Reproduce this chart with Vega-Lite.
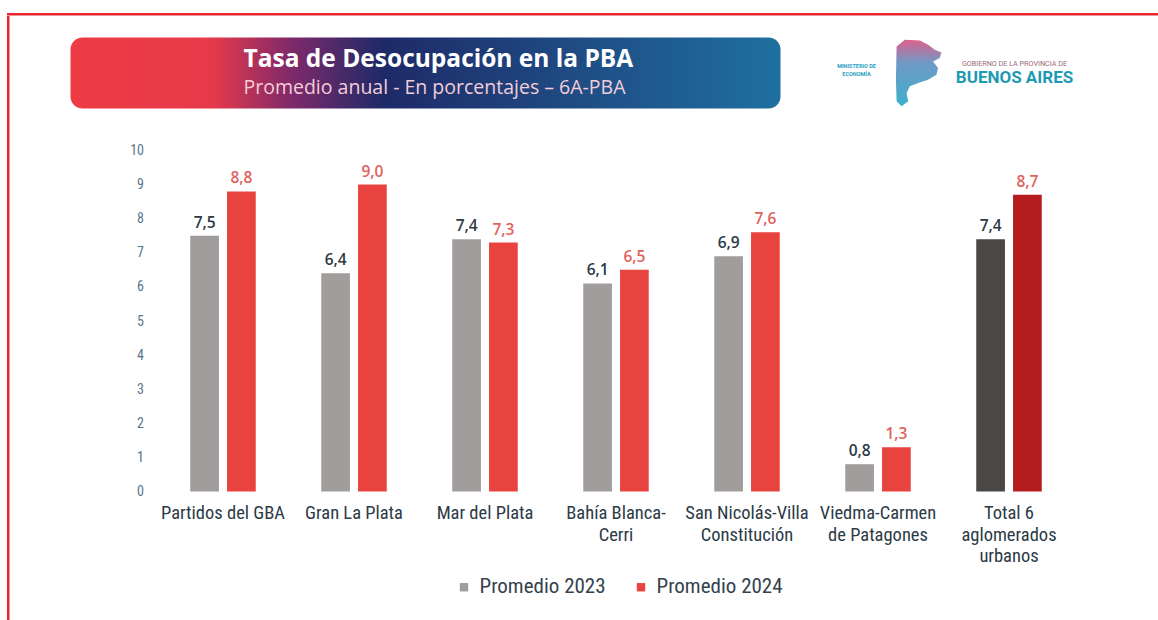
{
  "$schema": "https://vega.github.io/schema/vega-lite/v6.json",
  "background": "white",
  "padding": {"left": 7, "top": 13, "right": 0, "bottom": 0},
  "config": {
    "locale": {"number": {"decimal": ",", "thousands": ".", "grouping": [3], "currency": ["$", ""]}},
    "view": {"stroke": null},
    "font": "Liberation Sans Narrow, Roboto Condensed, Roboto, sans-serif"
  },
  "spacing": 0,
  "vconcat": [
    {
      "width": 1151,
      "height": 2.5,
      "view": {"fill": "#e8262b", "stroke": null},
      "data": {"values": []},
      "mark": {"type": "point", "opacity": 0},
      "encoding": {}
    },
    {
      "spacing": 60.5,
      "hconcat": [
        {
          "width": 2.5,
          "height": 610,
          "view": {"fill": "#e8262b", "stroke": null},
          "data": {"values": []},
          "mark": {"type": "point", "opacity": 0},
          "encoding": {}
        },
        {
          "spacing": 20.5,
          "vconcat": [
            {
              "width": 10,
              "height": 1,
              "data": {"values": []},
              "mark": {"type": "point", "opacity": 0},
              "encoding": {}
            },
            {
              "spacing": 35,
              "vconcat": [
                {
                  "spacing": 50,
                  "hconcat": [
                    {
                      "width": 710,
                      "height": 71,
                      "view": {
                        "stroke": null,
                        "cornerRadius": 12,
                        "fill": {
                          "gradient": "linear", "x1": 0, "y1": 0, "x2": 1, "y2": 0,
                          "stops": [
                            {"offset": 0, "color": "#ee3b45"},
                            {"offset": 0.2, "color": "#e63a4a"},
                            {"offset": 0.31, "color": "#80296a"},
                            {"offset": 0.44, "color": "#1e2a68"},
                            {"offset": 1, "color": "#1f70a0"}
                          ]
                        }
                      },
                      "layer": [
                        {
                          "data": {"values": [{"t": "Tasa de Desocupación en la PBA"}]},
                          "mark": {"type": "text", "align": "left", "dx": -182, "dy": -13, "fontSize": 24.5, "fontWeight": "bold", "color": "white", "font": "Open Sans"},
                          "encoding": {"text": {"field": "t"}}
                        },
                        {
                          "data": {"values": [{"t": "Promedio anual - En  porcentajes – 6A-PBA"}]},
                          "mark": {"type": "text", "align": "left", "dx": -182, "dy": 15, "fontSize": 19.5, "color": "#f3cdd8", "font": "Open Sans"},
                          "encoding": {"text": {"field": "t"}}
                        }
                      ]
                    },
                    {
                      "spacing": 6,
                      "hconcat": [
                        {
                          "width": 52,
                          "height": 71,
                          "layer": [
                            {
                              "data": {"values": [{"t": "MINISTERIO DE"}]},
                              "mark": {"type": "text", "dy": -7, "fontSize": 5.5, "fontWeight": "bold", "color": "#2aa0c4", "font": "Roboto"},
                              "encoding": {"text": {"field": "t"}}
                            },
                            {
                              "data": {"values": [{"t": "ECONOMÍA"}]},
                              "mark": {"type": "text", "dy": 1, "fontSize": 5.5, "fontWeight": "bold", "color": "#2aa0c4", "font": "Roboto"},
                              "encoding": {"text": {"field": "t"}}
                            }
                          ]
                        },
                        {
                          "width": 56,
                          "height": 71,
                          "data": {"values": [{"t": "mapa"}]},
                          "mark": {
                            "type": "point",
                            "filled": true,
                            "size": 4400,
                            "strokeWidth": 0,
                            "opacity": 0.9,
                            "shape": "M -0.35,-1 L 0.1,-0.98 L 0.35,-0.85 L 0.55,-0.7 L 0.75,-0.62 L 0.7,-0.45 L 0.5,-0.35 L 0.65,-0.15 L 0.6,0.05 L 0.35,0.2 L 0.05,0.3 L -0.2,0.4 L -0.3,0.6 L -0.25,0.85 L -0.45,1 L -0.6,0.85 L -0.62,0.2 L -0.6,-0.8 Z",
                            "fill": {
                              "gradient": "linear", "x1": 0, "y1": 0, "x2": 0, "y2": 1,
                              "stops": [
                                {"offset": 0, "color": "#d8507f"},
                                {"offset": 0.35, "color": "#5f8fc0"},
                                {"offset": 1, "color": "#26a6c4"}
                              ]
                            }
                          },
                          "encoding": {"tooltip": {"field": "t"}}
                        },
                        {
                          "width": 128,
                          "height": 71,
                          "layer": [
                            {
                              "data": {"values": [{"t": "GOBIERNO DE LA PROVINCIA DE"}]},
                              "mark": {"type": "text", "dy": -9, "fontSize": 7.2, "color": "#9a6a78", "font": "Roboto"},
                              "encoding": {"text": {"field": "t"}}
                            },
                            {
                              "data": {"values": [{"t": "BUENOS AIRES"}]},
                              "mark": {"type": "text", "dy": 5, "fontSize": 17, "fontWeight": "bold", "color": "#1d9ab3", "font": "Roboto"},
                              "encoding": {"text": {"field": "t"}}
                            }
                          ]
                        }
                      ]
                    }
                  ]
                },
                {
                  "spacing": 0,
                  "hconcat": [
                    {
                      "width": 59,
                      "height": 341,
                      "data": {"values": []},
                      "mark": {"type": "point", "opacity": 0},
                      "encoding": {}
                    },
                    {
                      "width": 917,
                      "height": 341,
                      "data": {
                        "values": [
                          {"region": "Partidos del GBA", "anio": "2023", "grupo": "Promedio 2023", "valor": 7.5},
                          {"region": "Partidos del GBA", "anio": "2024", "grupo": "Promedio 2024", "valor": 8.8},
                          {"region": "Gran La Plata", "anio": "2023", "grupo": "Promedio 2023", "valor": 6.4},
                          {"region": "Gran La Plata", "anio": "2024", "grupo": "Promedio 2024", "valor": 9.0},
                          {"region": "Mar del Plata", "anio": "2023", "grupo": "Promedio 2023", "valor": 7.4},
                          {"region": "Mar del Plata", "anio": "2024", "grupo": "Promedio 2024", "valor": 7.3},
                          {"region": "Bahía Blanca-Cerri", "anio": "2023", "grupo": "Promedio 2023", "valor": 6.1},
                          {"region": "Bahía Blanca-Cerri", "anio": "2024", "grupo": "Promedio 2024", "valor": 6.5},
                          {"region": "San Nicolás-Villa Constitución", "anio": "2023", "grupo": "Promedio 2023", "valor": 6.9},
                          {"region": "San Nicolás-Villa Constitución", "anio": "2024", "grupo": "Promedio 2024", "valor": 7.6},
                          {"region": "Viedma-Carmen de Patagones", "anio": "2023", "grupo": "Promedio 2023", "valor": 0.8},
                          {"region": "Viedma-Carmen de Patagones", "anio": "2024", "grupo": "Promedio 2024", "valor": 1.3},
                          {"region": "Total 6 aglomerados urbanos", "anio": "2023", "grupo": "Total 2023", "valor": 7.4},
                          {"region": "Total 6 aglomerados urbanos", "anio": "2024", "grupo": "Total 2024", "valor": 8.7}
                        ]
                      },
                      "encoding": {
                        "x": {
                          "field": "region", "type": "nominal", "sort": null,
                          "scale": {"paddingInner": 0.5, "paddingOuter": 0.25},
                          "axis": {
                            "title": null, "domain": false, "ticks": false, "labelAngle": 0,
                            "labelPadding": 12, "labelFontSize": 18.5, "labelColor": "#2c3a46",
                            "labelLineHeight": 21.5, "labelBaseline": "top", "labelLimit": 200,
                            "labelExpr": "datum.value == 'Bahía Blanca-Cerri' ? ['Bahía Blanca-', 'Cerri'] : datum.value == 'San Nicolás-Villa Constitución' ? ['San Nicolás-Villa', 'Constitución'] : datum.value == 'Viedma-Carmen de Patagones' ? ['Viedma-Carmen', 'de Patagones'] : datum.value == 'Total 6 aglomerados urbanos' ? ['Total  6', 'aglomerados', 'urbanos'] : datum.value"
                          }
                        },
                        "xOffset": {"field": "anio", "type": "nominal", "scale": {"paddingInner": 0.22}},
                        "y": {
                          "field": "valor", "type": "quantitative",
                          "scale": {"domain": [0, 10], "nice": false},
                          "axis": {
                            "title": null, "grid": false, "domain": false, "ticks": false,
                            "values": [0, 1, 2, 3, 4, 5, 6, 7, 8, 9, 10],
                            "labelFontSize": 14, "labelColor": "#5a7588", "labelPadding": 14
                          }
                        }
                      },
                      "layer": [
                        {
                          "mark": {"type": "bar"},
                          "encoding": {
                            "color": {
                              "field": "grupo", "type": "nominal",
                              "scale": {
                                "domain": ["Promedio 2023", "Promedio 2024", "Total 2023", "Total 2024"],
                                "range": ["#a09d9c", "#e9433f", "#4a4746", "#b51c1e"]
                              },
                              "legend": {
                                "title": null, "orient": "none", "legendX": 296, "legendY": 426,
                                "direction": "horizontal",
                                "values": ["Promedio 2023", "Promedio 2024"],
                                "symbolType": "square", "symbolSize": 70, "symbolStrokeWidth": 0,
                                "labelFontSize": 21, "labelColor": "#34424e", "columnPadding": 24,
                                "labelOffset": 5
                              }
                            }
                          }
                        },
                        {
                          "mark": {"type": "text", "baseline": "bottom", "dy": -5, "fontSize": 15.5, "fontWeight": 600, "font": "Open Sans"},
                          "encoding": {
                            "text": {"field": "valor", "type": "quantitative", "format": ".1f"},
                            "color": {
                              "field": "anio", "type": "nominal",
                              "scale": {"domain": ["2023", "2024"], "range": ["#2c3a44", "#e0625d"]},
                              "legend": null
                            }
                          }
                        }
                      ],
                      "resolve": {"scale": {"color": "independent"}}
                    }
                  ]
                }
              ]
            }
          ]
        }
      ]
    }
  ]
}
